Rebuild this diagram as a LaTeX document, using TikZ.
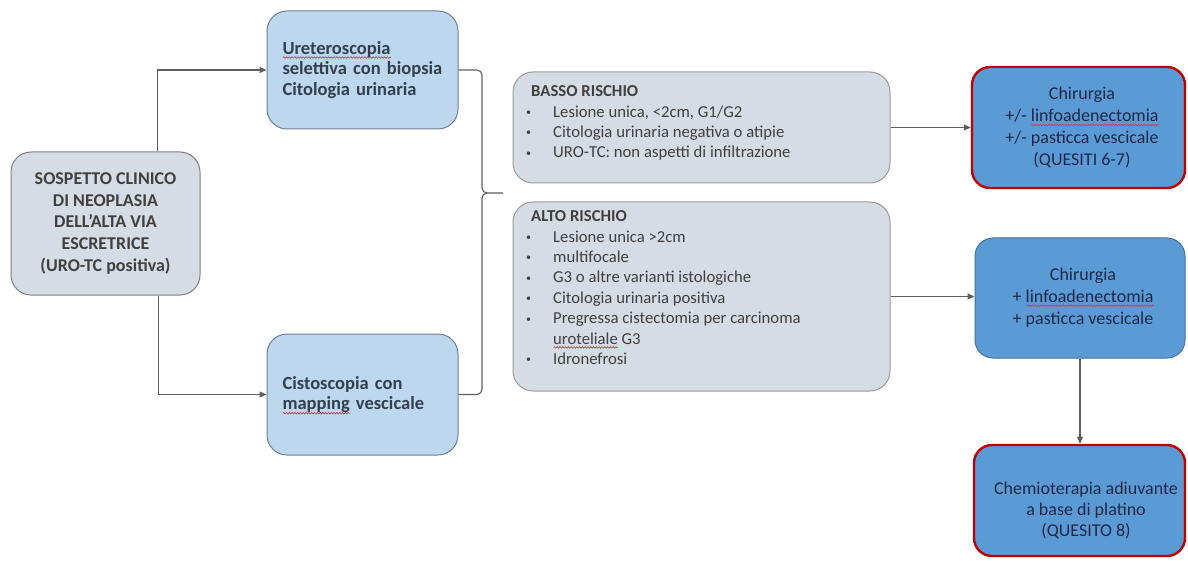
\documentclass[tikz,border=0pt]{standalone}
\usepackage{fontspec}
\setmainfont{Carlito}
\usetikzlibrary{arrows.meta,decorations.pathmorphing}

\definecolor{linegray}{HTML}{5E5E5E}
\definecolor{greyfill}{HTML}{D6DCE5}
\definecolor{greyedge}{HTML}{7F7F7F}
\definecolor{riskedge}{HTML}{9A9A9A}
\definecolor{paleblue}{HTML}{BDD7EE}
\definecolor{paleedge}{HTML}{6F7F92}
\definecolor{midblue}{HTML}{5B9BD5}
\definecolor{midedge}{HTML}{41719C}
\definecolor{alertred}{HTML}{C00000}
\definecolor{darktext}{HTML}{404040}
\definecolor{slatetext}{HTML}{333F50}
\definecolor{navytext}{HTML}{1C2748}
\definecolor{spellred}{HTML}{E0304A}

% wavy red underline under a word
\newsavebox\sqbox
\newlength\sqlen
\newcommand\squig[1]{\sbox\sqbox{#1}\setlength\sqlen{\wd\sqbox}%
  \smash{\rlap{\tikz[baseline=0pt,sharp corners]\draw[spellred,line width=0.65pt,sharp corners,decorate,
    decoration={snake,amplitude=0.75pt,segment length=2.8pt}]
    (0pt,-3.4pt) -- (\sqlen,-3.4pt);}}\usebox\sqbox}

% bullet line in the risk lists
\newcommand\riskitem[1]{\makebox[27pt][l]{\raisebox{1.5pt}{\fontsize{10}{10}\selectfont•}}#1}

\begin{document}
\begin{tikzpicture}[x=1pt,y=-1pt,
  box/.style={draw,rounded corners=20pt,inner sep=0pt,line width=1pt},
  startbox/.style={box,fill=greyfill,draw=greyedge,text=darktext,align=center,
    font=\bfseries\fontsize{18}{21.8}\selectfont},
  exambox/.style={box,fill=paleblue,draw=paleedge,text=slatetext,align=left,
    font=\bfseries\fontsize{18.5}{20.8}\selectfont},
  riskbox/.style={box,fill=greyfill,draw=riskedge},
  risktext/.style={anchor=north west,inner sep=0pt,align=left,text=darktext,
    font=\fontsize{16.7}{20.4}\selectfont},
  treatbox/.style={box,rounded corners=18pt,fill=midblue},
  treattext/.style={inner sep=0pt,align=center,text=navytext,
    font=\fontsize{18}{21.8}\selectfont},
  keybox/.style={treatbox,draw=alertred,line width=2.4pt},
  plainbox/.style={treatbox,draw=midedge,line width=1pt},
  link/.style={draw=linegray,line width=1.1pt},
  arr/.style={link,-{Triangle[length=7pt,width=6pt]}}
]
\useasboundingbox (0,0) rectangle (1188,561);

% starting point
\node[startbox,minimum width=189pt,minimum height=143pt] (sos) at (105.5,223.5)
  {SOSPETTO CLINICO\\DI NEOPLASIA\\DELL’ALTA VIA\\ESCRETRICE\\(URO-TC positiva)};

% diagnostic work-up
\node[exambox,minimum width=191pt,minimum height=118pt,text width=160pt] (uret) at (362.5,70)
  {\squig{Ureteroscopia}\\selettiva con biopsia\\Citologia urinaria\vphantom{p}};
\node[exambox,minimum width=191pt,minimum height=121pt,text width=160pt] (cist) at (362.5,394.5)
  {Cistoscopia con\\\squig{mapping} vescicale};

% risk classes
\node[riskbox,minimum width=377pt,minimum height=111pt] (basso) at (701.5,127.5) {};
\node[risktext] (bassotxt) at (526,85.5)
  {\hspace{5pt}\textbf{BASSO RISCHIO}\\
   \riskitem{Lesione unica, <2cm, G1/G2}\\
   \riskitem{Citologia urinaria negativa o atipie}\\
   \riskitem{URO-TC: non aspetti di infiltrazione}};

\node[riskbox,minimum width=377pt,minimum height=189pt] (alto) at (701.5,296.5) {};
\node[risktext] (altotxt) at (526,210.5)
  {\hspace{5pt}\textbf{ALTO RISCHIO}\\
   \riskitem{Lesione unica >2cm}\\
   \riskitem{multifocale}\\
   \riskitem{G3 o altre varianti istologiche}\\
   \riskitem{Citologia urinaria positiva}\\
   \riskitem{Pregressa cistectomia per carcinoma}\\
   \hspace{27pt}\squig{uroteliale} G3\\
   \riskitem{Idronefrosi}};

% treatments
\node[keybox,minimum width=213pt,minimum height=121pt] (chirA) at (1078.5,127.5) {};
\node[treattext] (chirAtxt) at (1082,127.5)
  {Chirurgia\\+/- \squig{linfoadenectomia}\\+/- pasticca vescicale\\(QUESITI 6-7)};
\node[plainbox,minimum width=210pt,minimum height=120pt] (chirB) at (1080,298) {};
\node[treattext] (chirBtxt) at (1083,297.5)
  {Chirurgia\\+ \squig{linfoadenectomia}\\+ pasticca vescicale};
\node[keybox,minimum width=211pt,minimum height=111pt] (chemio) at (1079.5,500.5) {};
\node[treattext,font=\fontsize{18}{21}\selectfont] (chemiotxt) at (1086,510)
  {Chemioterapia adiuvante\\a base di platino\\(QUESITO 8)};

% connectors
\draw[arr] ([xshift=52pt]sos.north) |- (uret.west);
\draw[arr] ([xshift=53pt]sos.south) |- (cist.west);

\coordinate (tip) at (503,193);
\draw[link,line join=round]
  (uret.east) -- (477,70) to[out=0,in=90] (482,75) -- (482,188)
  to[out=-90,in=180] (487,193) -- (tip);
\draw[link,line join=round]
  (487,193) to[out=180,in=90] (482,198) -- (482,389)
  to[out=-90,in=0] (477,394.5) -- (cist.east);

\draw[arr] (basso.east) -- (chirA.west |- basso.east);
\draw[arr] (alto.east) -- (chirB.west |- alto.east);
\draw[arr] (chirB.south) -- (chemio.north -| chirB.south);
\end{tikzpicture}
\end{document}
